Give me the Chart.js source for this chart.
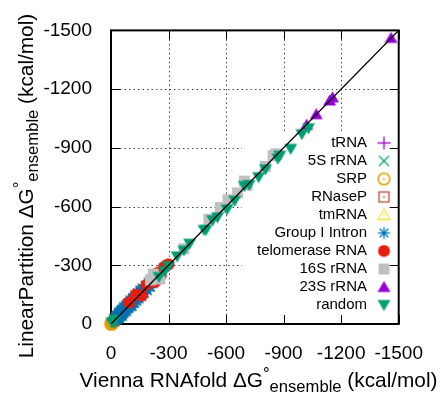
<!DOCTYPE html>
<html>
<head>
<meta charset="utf-8">
<script src="https://cdn.jsdelivr.net/npm/chart.js@4.4.0/dist/chart.umd.min.js"></script>
<style>
  html, body { margin: 0; padding: 0; background: #fff; }
  canvas { display: block; }
</style>
</head>
<body>
<canvas id="chart" width="441" height="397"></canvas>
<script>
// tick values, same on both axes (kcal/mol)
const tickValues = [0, -300, -600, -900, -1200, -1500];

// each point: [Vienna RNAfold, LinearPartition]
const tRNA = [[-14, -15], [-17, -18], [-19, -19], [-20, -21], [-21, -22], [-22, -24], [-24, -25], [-25, -26],
  [-26, -27], [-27, -28], [-28, -29], [-29, -31], [-31, -32], [-33, -34], [-35, -36]];
const rRNA5S = [[-32, -38], [-36, -30], [-38, -44], [-40, -36], [-42, -48], [-44, -40], [-46, -52], [-47, -44],
  [-48, -55], [-50, -47], [-52, -58], [-53, -50], [-55, -60], [-58, -54]];
const srp = [[0, 0], [-1, -1], [-2, -2], [-3, -1], [-4, -3], [-5, -6], [-6, -4], [-7, -6], [-8, -9], [-10, -10],
  [-12, -11], [-3, -5], [-14, -16], [-40, -43], [-65, -68], [-90, -94], [-110, -114], [-125, -130]];
const rnaseP = [[-30, -35], [-45, -48], [-60, -66], [-75, -78], [-90, -96], [-105, -108], [-118, -125],
  [-130, -134], [-145, -150], [-160, -168]];
const tmRNA = [[-60, -66], [-72, -70], [-85, -90], [-100, -104], [-110, -116], [-120, -124], [-135, -140]];
const groupI = [[-15, -28], [-22, -10], [-25, -35], [-28, -45], [-32, -20], [-35, -25], [-38, -52], [-40, -62],
  [-44, -30], [-46, -40], [-50, -66], [-52, -75], [-55, -42], [-58, -50], [-60, -40], [-62, -80], [-64, -88],
  [-68, -55], [-70, -64], [-74, -92], [-76, -98], [-80, -62], [-82, -72], [-86, -104], [-88, -110],
  [-92, -78], [-94, -86], [-98, -118], [-100, -124], [-104, -88], [-106, -98], [-110, -90], [-112, -135],
  [-115, -128], [-118, -108], [-122, -105], [-124, -148], [-128, -140], [-130, -122], [-134, -115],
  [-136, -160], [-140, -152], [-142, -132], [-146, -128], [-150, -172], [-154, -165], [-156, -150],
  [-160, -140], [-162, -185], [-166, -176], [-170, -160], [-174, -155], [-178, -198], [-182, -192],
  [-186, -178], [-190, -170], [-194, -215], [-198, -205], [-202, -190], [-206, -188], [-212, -232],
  [-222, -210], [-230, -245], [-240, -228]];
const telomerase = [[-95, -110], [-130, -150], [-160, -145], [-185, -200], [-210, -228], [-230, -215],
  [-245, -262], [-260, -250], [-275, -290], [-290, -300], [-300, -305]];
const rRNA16S = [[-205, -225], [-220, -255], [-235, -240], [-255, -230], [-380, -385], [-510, -535],
  [-570, -595], [-610, -635], [-660, -670], [-695, -730], [-710, -710], [-805, -805], [-845, -860], [-860, -870]];
const rRNA23S = [[-1020, -1018], [-1070, -1072], [-1140, -1142], [-1155, -1158], [-1460, -1462]];
const random = [[-5, -6], [-12, -10], [-20, -22], [-250, -240], [-280, -270], [-300, -295], [-345, -345],
  [-380, -375], [-410, -410], [-485, -480], [-495, -480], [-530, -530], [-555, -545], [-605, -585],
  [-645, -630], [-695, -705], [-720, -710], [-770, -750], [-805, -790], [-870, -845], [-880, -860],
  [-937, -895], [-995, -970], [-1030, -1000]];
// y = x reference line
const diagonal = [0, -1500];

const seriesNames = ['tRNA', '5S rRNA', 'SRP', 'RNaseP', 'tmRNA', 'Group I Intron',
  'telomerase RNA', '16S rRNA', '23S rRNA', 'random'];
const seriesData = [tRNA, rRNA5S, srp, rnaseP, tmRNA, groupI, telomerase, rRNA16S, rRNA23S, random];
const seriesColors = ['#9400d3', '#009e73', '#e69f00', '#b8453e', '#f0e442', '#0072b2',
  '#e51e10', '#c0c0c0', '#9400d3', '#009e73'];
const seriesMarkers = ['plus', 'cross', 'circleDot', 'squareDot', 'triDot', 'star',
  'circle', 'square', 'triUp', 'triDown'];

// small canvases used as point styles (gnuplot-like symbols)
function makeMarker(kind, color) {
  const c = document.createElement('canvas');
  c.width = 17; c.height = 17;
  const g = c.getContext('2d');
  const m = 8.5;
  g.strokeStyle = color;
  g.fillStyle = color;
  g.lineWidth = 1.3;
  const line = (x1, y1, x2, y2) => { g.beginPath(); g.moveTo(m + x1, m + y1); g.lineTo(m + x2, m + y2); g.stroke(); };
  const dot = () => { g.beginPath(); g.arc(m, m, 0.9, 0, Math.PI * 2); g.fill(); };
  switch (kind) {
    case 'plus': line(-6.5, 0, 6.5, 0); line(0, -6.5, 0, 6.5); break;
    case 'cross': line(-5, -5, 5, 5); line(-5, 5, 5, -5); break;
    case 'star':
      line(-6, 0, 6, 0); line(0, -6, 0, 6);
      line(-4.3, -4.3, 4.3, 4.3); line(-4.3, 4.3, 4.3, -4.3); break;
    case 'circleDot': g.lineWidth = 1.6; g.beginPath(); g.arc(m, m, 5.8, 0, Math.PI * 2); g.stroke(); dot(); break;
    case 'squareDot': g.strokeRect(m - 5, m - 5, 10, 10); dot(); break;
    case 'triDot':
      g.beginPath(); g.moveTo(m, m - 6); g.lineTo(m + 6, m + 4.5); g.lineTo(m - 6, m + 4.5); g.closePath(); g.stroke();
      dot(); break;
    case 'circle': g.beginPath(); g.arc(m, m, 6, 0, Math.PI * 2); g.fill(); break;
    case 'square': g.fillRect(m - 5.5, m - 5.5, 11, 11); break;
    case 'triUp':
      g.beginPath(); g.moveTo(m, m - 6); g.lineTo(m + 6.5, m + 5); g.lineTo(m - 6.5, m + 5); g.closePath(); g.fill(); break;
    case 'triDown':
      g.beginPath(); g.moveTo(m, m + 6); g.lineTo(m + 6.5, m - 5); g.lineTo(m - 6.5, m - 5); g.closePath(); g.fill(); break;
  }
  return c;
}

const markers = seriesMarkers.map((k, i) => makeMarker(k, seriesColors[i]));

const datasets = seriesData.map((pts, i) => ({
  label: seriesNames[i],
  data: pts.map(p => ({ x: p[0], y: p[1] })),
  pointStyle: markers[i],
  pointRadius: 6,
  showLine: false,
  clip: false,
  order: seriesNames.length - i   // first family drawn first, random on top
}));
datasets.push({
  label: 'y=x',
  type: 'line',
  data: diagonal.map(v => ({ x: v, y: v })),
  borderColor: '#000',
  borderWidth: 1.3,
  pointRadius: 0,
  fill: false,
  order: 0
});

// key area where gnuplot leaves out the grid
const keyBox = { left: 242, top: 133 };

const framePlugin = {
  id: 'frame',
  beforeDatasetsDraw(chart) {
    const { ctx, chartArea: a, scales: { x, y } } = chart;
    ctx.save();
    // dotted grid
    ctx.strokeStyle = '#444';
    ctx.lineWidth = 1;
    ctx.setLineDash([1.5, 3]);
    tickValues.forEach(v => {
      if (v === 0 || v === -1500) return;
      const px = Math.round(x.getPixelForValue(v)) + 0.5;
      ctx.beginPath();
      ctx.moveTo(px, a.top);
      ctx.lineTo(px, px > keyBox.left ? keyBox.top : a.bottom);
      ctx.stroke();
      const py = Math.round(y.getPixelForValue(v)) + 0.5;
      ctx.beginPath();
      ctx.moveTo(a.left, py);
      ctx.lineTo(py > keyBox.top ? keyBox.left : a.right, py);
      ctx.stroke();
    });
    ctx.setLineDash([]);
    // inward ticks, mirrored
    ctx.strokeStyle = '#000';
    ctx.lineWidth = 1;
    const tl = 9;
    tickValues.forEach(v => {
      const px = Math.round(x.getPixelForValue(v)) + 0.5;
      const py = Math.round(y.getPixelForValue(v)) + 0.5;
      ctx.beginPath();
      ctx.moveTo(px, a.bottom); ctx.lineTo(px, a.bottom - tl);
      ctx.moveTo(px, a.top); ctx.lineTo(px, a.top + tl);
      ctx.moveTo(a.left, py); ctx.lineTo(a.left + tl, py);
      ctx.moveTo(a.right, py); ctx.lineTo(a.right - tl, py);
      ctx.stroke();
    });
    // border
    ctx.lineWidth = 2;
    ctx.strokeRect(a.left, a.top, a.right - a.left, a.bottom - a.top);
    ctx.restore();
  },
  afterDatasetsDraw(chart) {
    const { ctx } = chart;
    ctx.save();
    // key: text right aligned, symbol on the right
    ctx.font = '15px "Liberation Sans", Arial, sans-serif';
    ctx.fillStyle = '#000';
    ctx.textAlign = 'right';
    ctx.textBaseline = 'middle';
    seriesNames.forEach((name, i) => {
      const ry = 143 + i * 18;
      ctx.fillText(name, 367, ry);
      const mk = markers[i];
      ctx.drawImage(mk, 384 - mk.width / 2, ry - mk.height / 2);
    });
    // axis titles with super/subscripts
    drawRich(ctx, 'Vienna RNAfold', 258.5, 387, 0);
    drawRich(ctx, 'LinearPartition', 33, 186, -Math.PI / 2);
    ctx.restore();
  }
};

function drawRich(ctx, prefix, cx, cy, rot) {
  const big = '20.8px "Liberation Sans", Arial, sans-serif';
  const small = '16.6px "Liberation Sans", Arial, sans-serif';
  const parts = [
    { t: prefix + ' \u0394G', f: big, dy: 0 },
    { t: '\u00b0', f: small, dy: -8 },
    { t: 'ensemble', f: small, dy: 5 },
    { t: ' (kcal/mol)', f: big, dy: 0 }
  ];
  let total = 0;
  parts.forEach(p => { ctx.font = p.f; p.w = ctx.measureText(p.t).width; total += p.w; });
  ctx.save();
  ctx.translate(cx, cy);
  ctx.rotate(rot);
  ctx.textAlign = 'left';
  ctx.textBaseline = 'alphabetic';
  ctx.fillStyle = '#000';
  let xx = -total / 2;
  parts.forEach(p => {
    ctx.font = p.f;
    ctx.fillText(p.t, xx, p.dy);
    xx += p.w;
  });
  ctx.restore();
}

const tickFont = { family: '"Liberation Sans", Arial, sans-serif', size: 19 };

const chart = new Chart(document.getElementById('chart').getContext('2d'), {
  type: 'scatter',
  data: { datasets },
  options: {
    responsive: false,
    animation: false,
    devicePixelRatio: 1,
    events: [],
    layout: { padding: { top: 23, right: 30, left: 0, bottom: 0 } },
    plugins: { legend: { display: false }, tooltip: { enabled: false } },
    scales: {
      x: {
        type: 'linear',
        min: -1500,
        max: 0,
        reverse: true,
        afterFit: s => { s.height = 73; },
        afterBuildTicks: s => { s.ticks = tickValues.map(v => ({ value: v })); },
        grid: { display: false, drawTicks: false },
        border: { display: false },
        ticks: { color: '#000', font: tickFont, padding: 18, maxRotation: 0, callback: v => String(v) }
      },
      y: {
        type: 'linear',
        min: -1500,
        max: 0,
        reverse: true,
        afterFit: s => { s.width = 111; },
        afterBuildTicks: s => { s.ticks = tickValues.map(v => ({ value: v })); },
        grid: { display: false, drawTicks: false },
        border: { display: false },
        ticks: { color: '#000', font: tickFont, padding: 19, callback: v => String(v) }
      }
    }
  },
  plugins: [framePlugin]
});
</script>
</body>
</html>
